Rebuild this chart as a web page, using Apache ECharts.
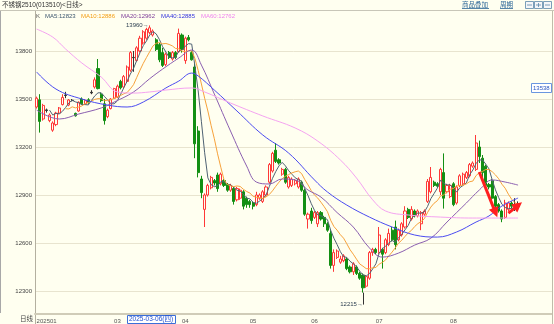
<!DOCTYPE html>
<html><head><meta charset="utf-8">
<script src="https://cdn.jsdelivr.net/npm/echarts@6/dist/echarts.min.js"></script>
<style>html,body{margin:0;padding:0;background:#fffff0;}#c{width:554px;height:324px;}</style>
</head><body><div id="c"></div>
<script>
// ---- data ----
const dates = ("2025-01-17,2025-01-20,2025-01-21,2025-01-22,2025-01-23,2025-01-24,2025-01-27," +
"2025-02-05,2025-02-06,2025-02-07,2025-02-10,2025-02-11,2025-02-12,2025-02-13,2025-02-14,2025-02-17,2025-02-18,2025-02-19,2025-02-20,2025-02-21,2025-02-24,2025-02-25,2025-02-26,2025-02-27,2025-02-28," +
"2025-03-03,2025-03-04,2025-03-05,2025-03-06,2025-03-07,2025-03-10,2025-03-11,2025-03-12,2025-03-13,2025-03-14,2025-03-17,2025-03-18,2025-03-19,2025-03-20,2025-03-21,2025-03-24,2025-03-25,2025-03-26,2025-03-27,2025-03-28,2025-03-31," +
"2025-04-01,2025-04-02,2025-04-03,2025-04-07,2025-04-08,2025-04-09,2025-04-10,2025-04-11,2025-04-14,2025-04-15,2025-04-16,2025-04-17,2025-04-18,2025-04-21,2025-04-22,2025-04-23,2025-04-24,2025-04-25,2025-04-28,2025-04-29,2025-04-30," +
"2025-05-06,2025-05-07,2025-05-08,2025-05-09,2025-05-12,2025-05-13,2025-05-14,2025-05-15,2025-05-16,2025-05-19,2025-05-20,2025-05-21,2025-05-22,2025-05-23,2025-05-26,2025-05-27,2025-05-28,2025-05-29,2025-05-30," +
"2025-06-03,2025-06-04,2025-06-05,2025-06-06,2025-06-09,2025-06-10,2025-06-11,2025-06-12,2025-06-13,2025-06-16,2025-06-17,2025-06-18,2025-06-19,2025-06-20,2025-06-23,2025-06-24,2025-06-25,2025-06-26,2025-06-27,2025-06-30," +
"2025-07-01,2025-07-02,2025-07-03,2025-07-04,2025-07-07,2025-07-08,2025-07-09,2025-07-10,2025-07-11,2025-07-14,2025-07-15,2025-07-16,2025-07-17,2025-07-18,2025-07-21,2025-07-22,2025-07-23,2025-07-24,2025-07-25,2025-07-28,2025-07-29,2025-07-30,2025-07-31," +
"2025-08-01,2025-08-04,2025-08-05,2025-08-06,2025-08-07,2025-08-08,2025-08-11,2025-08-12,2025-08-13,2025-08-14,2025-08-15,2025-08-18,2025-08-19,2025-08-20,2025-08-21,2025-08-22,2025-08-25,2025-08-26,2025-08-27,2025-08-28,2025-08-29").split(',');

const opens = [13450,13495,13375,13432,13365,13305,13340,13412,13465,13525,13462,13492,13410,13425,13500,13470,13495,13542,13575,13690,
13530,13470,13390,13440,13505,13512,13610,13575,13610,13680,13760,13740,13800,13850,13880,13915,13900,13870,13840,13790,
13715,13790,13750,13790,13795,13900,13740,13885,13790,13700,13300,13000,12810,12900,12945,12990,13025,12970,12990,12965,
12930,12940,12870,12880,12920,12880,12860,12850,12840,12880,12860,12900,12980,13050,13180,13120,13030,13060,12950,12960,
12970,12950,12980,12930,12750,12800,12760,12720,12790,12760,12720,12660,12460,12510,12480,12490,12500,12450,12420,12450,
12410,12400,12330,12380,12540,12560,12540,12560,12540,12590,12680,12700,12620,12650,12700,12810,12750,12800,12770,12720,
12780,12860,12920,12980,12970,12920,13040,12920,12890,12970,12850,12960,12970,13010,13020,13080,13060,13200,13130,13080,
12965,12990,12890,12840,12800,12760,12810,12850,12832,12830];
const closes = [13505,13360,13460,13428,13400,13350,13412,13444,13510,13522,13494,13490,13395,13480,13470,13490,13480,13538,13620,13565,
13490,13365,13430,13500,13565,13580,13570,13640,13700,13790,13758,13820,13880,13920,13935,13945,13925,13810,13745,13710,
13780,13760,13790,13760,13910,13810,13880,13870,13745,13220,13040,12915,12900,12960,13010,12975,12940,13030,12960,12930,
12960,12860,12940,12930,12830,12840,12840,12830,12900,12900,12920,12950,13090,13160,13110,13100,13060,12980,13010,13000,
12990,13000,12930,12780,12780,12740,12790,12790,12750,12720,12680,12460,12540,12550,12500,12520,12440,12420,12470,12410,
12380,12320,12390,12540,12560,12540,12650,12530,12620,12660,12620,12590,12680,12720,12800,12760,12810,12770,12800,12790,
12800,12985,13010,12960,12955,13060,12880,12960,12960,12840,12950,13020,13030,13040,13090,13100,13225,13140,13040,12960,
12950,12880,12830,12800,12750,12850,12850,12830,12828,12833];
const highs = [13515,13530,13470,13440,13410,13360,13420,13450,13530,13545,13500,13500,13415,13485,13510,13500,13505,13555,13635,13750,
13540,13500,13440,13505,13570,13590,13620,13650,13710,13800,13800,13830,13895,13930,13945,13960,13935,13880,13850,13820,
13790,13800,13800,13800,13940,13910,13890,13900,13800,13720,13330,13020,12910,12970,13020,13000,13040,13040,13000,12975,
12970,12950,12950,12940,12930,12890,12870,12860,12920,12910,12930,12960,13100,13170,13225,13130,13070,13070,13020,13010,
13000,13010,12990,12940,12790,12820,12800,12800,12800,12770,12730,12680,12560,12560,12520,12530,12510,12460,12480,12460,
12420,12410,12400,12550,12570,12570,12700,12570,12630,12690,12700,12740,12690,12730,12830,12820,12830,12810,12810,12800,
12810,13000,13075,12990,12980,13070,13160,12970,12970,12980,12960,13030,13040,13050,13100,13110,13275,13240,13150,13090,
12975,13000,12900,12850,12810,12870,12860,12860,12880,12860];
const lows = [13440,13290,13365,13415,13355,13295,13330,13405,13460,13505,13455,13485,13390,13420,13465,13465,13470,13530,13565,13560,
13480,13340,13380,13435,13500,13505,13560,13570,13600,13670,13670,13735,13790,13840,13870,13905,13890,13800,13730,13700,
13705,13750,13740,13750,13790,13790,13720,13860,13740,13130,13010,12880,12700,12890,12935,12960,12920,12960,12950,12920,
12920,12840,12860,12870,12810,12820,12820,12810,12830,12870,12850,12890,12970,13040,13100,13090,13020,12970,12940,12950,
12960,12940,12920,12770,12690,12720,12750,12700,12740,12700,12670,12440,12420,12500,12470,12480,12430,12410,12400,12400,
12370,12290,12320,12370,12520,12530,12530,12440,12530,12580,12610,12560,12610,12640,12690,12750,12740,12760,12760,12680,
12770,12850,12910,12950,12945,12900,12815,12910,12880,12830,12840,12950,12960,13000,13010,13070,13050,13100,13000,12940,
12935,12860,12810,12790,12730,12750,12800,12815,12800,12810];

// moving averages that need history before the window: as [dayIndex, value]
const ma20Pts = [[0,13431],[7,13375],[13,13406],[20,13444],[24,13481],[30,13544],[35,13627],[39,13687],[44,13756],[48,13806],[51,13712],[55,13531],[60,13300],[65,13081],[68,12981],[72,12969],[76,13000],[80,12994],[84,12931],[88,12887],[93,12790],[98,12700],[103,12569],[107,12512],[112,12537],[117,12587],[122,12630],[127,12731],[133,12850],[137,12931],[141,12994],[145,12981],[149,12962]];
const ma40Pts = [[0,13669],[6,13562],[14,13500],[22,13462],[28,13450],[33,13481],[40,13569],[44,13612],[48,13662],[50,13644],[55,13556],[62,13425],[70,13275],[78,13162],[86,12994],[90,12919],[96,12837],[103,12762],[110,12700],[117,12650],[124,12637],[130,12669],[136,12731],[140,12769],[144,12831],[149,12881]];
const ma60Pts = [[0,13937],[5,13887],[9,13812],[14,13725],[20,13637],[25,13544],[30,13537],[35,13544],[40,13556],[48,13569],[52,13544],[60,13475],[70,13394],[80,13319],[87,13237],[94,13119],[99,13006],[104,12870],[108,12800],[115,12775],[125,12762],[135,12756],[149,12756]];

const legendValues = {MA5:'12823', MA10:'12886', MA20:'12962', MA40:'12885', MA60:'12762'};
const highMark = {day: '2025-03-17', value: 13960};
const lowMark = {day: '2025-06-24', value: 12215, barLow: 12290};
const arrowA = [['2025-08-13', 13044], ['2025-08-20', 12790]];
const arrowB = [['2025-08-26', 12787], ['2025-08-29', 12835]];
const crossDate = '2025-03-06';
const crossLabel = '2025-03-06(四)';
const priceTag = 13538;

// ---- build ----
const padCount = 10;
const cats = dates.concat(Array.from({length: padCount}, (_, k) => 'pad' + k));
const labelMap = {};
let lastShown = -100, prevMonth = '';
dates.forEach((d, i) => {
  const m = d.slice(5, 7);
  if (i === 0) { labelMap[i] = d.slice(0, 4) + m; lastShown = i; }
  else if (m !== prevMonth && i - lastShown >= 10) { labelMap[i] = m; lastShown = i; }
  prevMonth = m;
});

const kData = dates.map((d, i) => {
  const item = {value: [opens[i], closes[i], lows[i], highs[i]]};
  if (Math.abs(opens[i] - closes[i]) <= 5) {
    item.itemStyle = {color: '#333', color0: '#333', borderColor: '#333', borderColor0: '#333'};
  }
  return item;
});
function ma(n) {
  return closes.map((c, i) => {
    if (i < n - 1) return '-';
    let s = 0; for (let k = i - n + 1; k <= i; k++) s += closes[k];
    return +(s / n).toFixed(1);
  });
}
const BG = '#fffff0';
const FONT = '"Liberation Sans", "Noto Sans CJK SC", sans-serif';

const chart = echarts.init(document.getElementById('c'));
const option = {
  backgroundColor: BG,
  animation: false,
  textStyle: {fontFamily: FONT},
  title: {
    left: 36, top: 13, padding: 0,
    text: '{k|K}{a|MA5:' + legendValues.MA5 + '}{b|MA10:' + legendValues.MA10 + '}{c|MA20:' + legendValues.MA20 + '}{d|MA40:' + legendValues.MA40 + '}{e|MA60:' + legendValues.MA60 + '}',
    textStyle: {fontSize: 6, fontWeight: 'normal', fontFamily: FONT, rich: {
      k: {color: '#555', fontSize: 6, width: 9},
      a: {color: '#3d566e', fontSize: 6, width: 36},
      b: {color: '#f39c12', fontSize: 6, width: 40},
      c: {color: '#7d3c98', fontSize: 6, width: 40},
      d: {color: '#3333dd', fontSize: 6, width: 40},
      e: {color: '#ee82ee', fontSize: 6, width: 40}
    }}
  },
  grid: {left: 35, right: 2, top: 3, bottom: -15, outerBoundsMode: 'none', containLabel: false},
  xAxis: {
    type: 'category', data: cats, boundaryGap: true, offset: -25,
    axisLine: {lineStyle: {color: '#d0ccb8', width: 2}},
    axisTick: {show: false},
    axisLabel: {
      fontSize: 6, color: '#555', margin: 4, alignMinLabel: 'left',
      interval: (idx) => labelMap[idx] !== undefined,
      formatter: (v, idx) => labelMap[idx] || ''
    },
    splitLine: {show: false}
  },
  yAxis: {
    type: 'value', min: 12000, max: 14100, interval: 300,
    axisLine: {show: true, lineStyle: {color: '#b4b0a0'}},
    axisTick: {show: false},
    axisLabel: {fontSize: 6, color: '#444', margin: 3, formatter: v => (v < 12300 || v > 13800) ? '' : String(v)},
    splitLine: {lineStyle: {color: '#e8e4cf', width: 1}}
  },
  series: [
    {type: 'candlestick', name: 'K', data: kData, barWidth: 2.6, z: 2,
     itemStyle: {color: BG, color0: '#138f13', borderColor: '#ff3838', borderColor0: '#138f13', borderWidth: 1},
     markPoint: {
       symbol: 'circle', symbolSize: 0.1, silent: true,
       label: {show: true, position: 'left', distance: 1, fontSize: 6, color: '#2c3e50', fontFamily: FONT},
       data: [
         {coord: [highMark.day, highMark.value], label: {formatter: highMark.value + '→'}},
         {coord: [lowMark.day, lowMark.value], label: {formatter: lowMark.value + '→', distance: 0}}
       ]
     }},
    {type: 'line', name: 'MA5', data: ma(5), showSymbol: false, symbol: 'none', z: 4, lineStyle: {color: '#4f6273', width: 1}},
    {type: 'line', name: 'MA10', data: ma(10), showSymbol: false, symbol: 'none', z: 4, lineStyle: {color: '#f7a23b', width: 1}},
    {type: 'line', name: 'MA20', data: ma20Pts, smooth: 0.4, showSymbol: false, symbol: 'none', z: 4, lineStyle: {color: '#8b5fb0', width: 1}},
    {type: 'line', name: 'MA40', data: ma40Pts, smooth: 0.4, showSymbol: false, symbol: 'none', z: 4, lineStyle: {color: '#4b4bf0', width: 1}},
    {type: 'line', name: 'MA60', data: ma60Pts, smooth: 0.4, showSymbol: false, symbol: 'none', z: 4, lineStyle: {color: '#f5a3f0', width: 1}},
    {type: 'lines', coordinateSystem: 'cartesian2d', z: 5, silent: true,
     symbol: 'none', lineStyle: {color: '#333', width: 1, opacity: 1},
     data: [{coords: [[lowMark.day, lowMark.value], [lowMark.day, lowMark.barLow]]}]},
    {type: 'lines', coordinateSystem: 'cartesian2d', z: 6, silent: true,
     symbol: ['none', 'triangle'], symbolSize: 10,
     lineStyle: {color: '#ff1f1f', width: 3, opacity: 1},
     data: [{coords: arrowA}, {coords: arrowB}]}
  ]
};
chart.setOption(option);

const px = (d, v) => chart.convertToPixel({gridIndex: 0}, [d, v]);
const cx = px(crossDate, 13000)[0];
const py = px(dates[0], priceTag)[1];
chart.setOption({graphic: [
  {type: 'rect', z: 100, shape: {x: 0, y: 0, width: 554, height: 10}, style: {fill: BG}},
  {type: 'line', z: 101, shape: {x1: 0, y1: 10.5, x2: 554, y2: 10.5}, style: {stroke: '#c8c6b8', lineWidth: 1}},
  {type: 'text', z: 102, x: 2, y: 5.5, style: {text: '不锈钢2510(013510)<日线>', fill: '#333', fontSize: 6.5, fontFamily: FONT, verticalAlign: 'middle'}},
  {type: 'text', z: 102, x: 462, y: 5, style: {text: '商品叠加', fill: '#2a6496', fontSize: 6.5, fontFamily: FONT, verticalAlign: 'middle'}},
  {type: 'line', z: 102, shape: {x1: 462, y1: 8.5, x2: 489, y2: 8.5}, style: {stroke: '#2a6496', lineWidth: 0.8}},
  {type: 'text', z: 102, x: 500, y: 5, style: {text: '周期', fill: '#2a6496', fontSize: 6.5, fontFamily: FONT, verticalAlign: 'middle'}},
  {type: 'line', z: 102, shape: {x1: 500, y1: 8.5, x2: 513, y2: 8.5}, style: {stroke: '#2a6496', lineWidth: 0.8}},
  {type: 'rect', z: 102, shape: {x: 525.5, y: 1.5, width: 8, height: 7}, style: {fill: '#f4f6f8', stroke: '#5a88aa', lineWidth: 0.8}},
  {type: 'rect', z: 102, shape: {x: 534.5, y: 1.5, width: 8, height: 7}, style: {fill: '#f4f6f8', stroke: '#5a88aa', lineWidth: 0.8}},
  {type: 'rect', z: 102, shape: {x: 543.5, y: 1.5, width: 8, height: 7}, style: {fill: '#f4f6f8', stroke: '#5a88aa', lineWidth: 0.8}},
  {type: 'line', z: 103, shape: {x1: 527, y1: 5, x2: 532, y2: 5}, style: {stroke: '#5a88aa', lineWidth: 0.8}},
  {type: 'line', z: 103, shape: {x1: 536, y1: 5, x2: 541, y2: 5}, style: {stroke: '#5a88aa', lineWidth: 0.8}},
  {type: 'line', z: 103, shape: {x1: 538.5, y1: 3, x2: 538.5, y2: 7}, style: {stroke: '#5a88aa', lineWidth: 0.8}},
  {type: 'line', z: 103, shape: {x1: 545, y1: 5, x2: 550, y2: 5}, style: {stroke: '#5a88aa', lineWidth: 0.8}},
  {type: 'line', z: 50, shape: {x1: 552.5, y1: 11, x2: 552.5, y2: 324}, style: {stroke: '#c0bcaa', lineWidth: 1}},
  {type: 'line', z: 50, shape: {x1: 0.5, y1: 11, x2: 0.5, y2: 313}, style: {stroke: '#a8a8a8', lineWidth: 1}},
  {type: 'text', z: 102, x: 20, y: 319.5, style: {text: '日线', fill: '#444', fontSize: 6.5, fontFamily: FONT, verticalAlign: 'middle'}},
  {type: 'rect', z: 102, shape: {x: Math.round(cx) + 0.5, y: 315.5, width: 48, height: 8}, style: {fill: '#ffffff', stroke: '#3b6fd8', lineWidth: 1}},
  {type: 'text', z: 103, x: Math.round(cx) + 2, y: 319.5, style: {text: crossLabel, fill: '#1f4fd0', fontSize: 6.5, fontFamily: FONT, verticalAlign: 'middle'}},
  {type: 'rect', z: 102, shape: {x: 531.5, y: Math.round(py) - 9.5, width: 20, height: 9}, style: {fill: '#ffffff', stroke: '#6a96e0', lineWidth: 1}},
  {type: 'text', z: 103, x: 533, y: Math.round(py) - 5, style: {text: String(priceTag), fill: '#2a55c0', fontSize: 6, fontFamily: FONT, verticalAlign: 'middle'}}
]});
</script>
</body></html>
